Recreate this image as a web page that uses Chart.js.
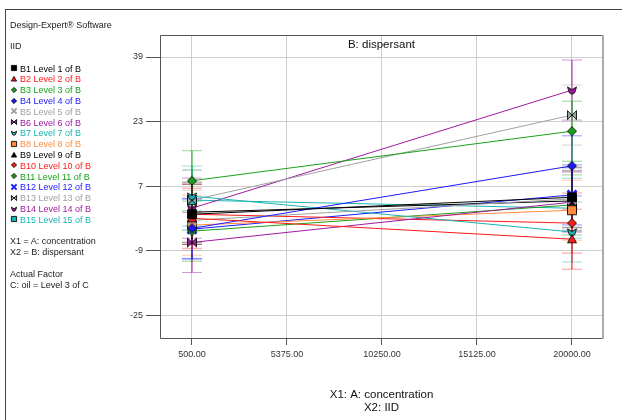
<!DOCTYPE html>
<html>
<head>
<meta charset="utf-8">
<script src="https://cdn.jsdelivr.net/npm/chart.js@4.4.1/dist/chart.umd.min.js"></script>
<style>
  body { margin: 0; background: #fff; font-family: "Liberation Sans", Arial, sans-serif; }
  #wrap { position: relative; width: 622px; height: 420px; overflow: hidden; }
  #frame { position: absolute; left: 5px; top: 9px; width: 640px; height: 430px; border-left: 1px solid #444; border-top: 1px solid #444; }
  #chart { position: absolute; left: 0; top: 0; }
  .t { position: absolute; left: 10px; font-size: 9px; line-height: 11px; color: #222; white-space: nowrap; }
  .t canvas { vertical-align: middle; margin-right: 2px; position: relative; top: -1px; }
</style>
</head>
<body>
<div id="wrap">
  <div id="frame"></div>
  <canvas id="chart" width="622" height="420"></canvas>
  <div id="side"></div>
</div>
<script>
// levels of B and the predicted IID at A = 500 and A = 20000
const levels = ['B1 Level 1 of B', 'B2 Level 2 of B', 'B3 Level 3 of B', 'B4 Level 4 of B', 'B5 Level 5 of B',
  'B6 Level 6 of B', 'B7 Level 7 of B', 'B8 Level 8 of B', 'B9 Level 9 of B', 'B10 Level 10 of B',
  'B11 Level 11 of B', 'B12 Level 12 of B', 'B13 Level 13 of B', 'B14 Level 14 of B', 'B15 Level 15 of B'];
const concentration = [500, 20000];
const iidAt500   = [0.0, -1.0, 8.3, -3.5, -1.5, -7.0, 4.5, -2.7, 0.5, 0.0, -4.2, -3.7, 3.5, 1.5, 3.5];
const iidAt20000 = [4.2, -6.2, 20.6, 12.0, 3.8, 3.0, -4.4, 1.0, 3.3, -2.2, 2.3, 4.8, 24.6, 30.8, 1.5];
const lsdHalf = 7.45;
const xTicks = [500, 5375, 10250, 15125, 20000];
const yTicks = [-25, -9, 7, 23, 39];

const colors = ['#000000', '#ff1a1a', '#1aa01a', '#1a1aff', '#a0a0a0', '#a01aa0', '#1ab4b4', '#ff8c3c',
  '#000000', '#ff1a1a', '#1aa01a', '#1a1aff', '#a0a0a0', '#a01aa0', '#1ab4b4'];
const shapes = ['rect', 'tri', 'diamond', 'diamond', 'x', 'bowtie', 'chevron', 'rect',
  'tri', 'diamond', 'diamond', 'x', 'bowtie', 'chevron', 'rect'];

function alpha(hex, a) {
  const n = parseInt(hex.slice(1), 16);
  return `rgba(${n >> 16},${(n >> 8) & 255},${n & 255},${a})`;
}

function drawShape(c, kind, cx, cy, r, col) {
  c.fillStyle = col;
  c.strokeStyle = 'rgba(0,0,0,0.85)';
  c.lineWidth = 1;
  c.beginPath();
  if (kind === 'rect') {
    c.rect(cx - r, cy - r, 2 * r, 2 * r);
  } else if (kind === 'tri') {
    c.moveTo(cx, cy - r); c.lineTo(cx + r, cy + r * 0.8); c.lineTo(cx - r, cy + r * 0.8); c.closePath();
  } else if (kind === 'diamond') {
    c.moveTo(cx, cy - r); c.lineTo(cx + r, cy); c.lineTo(cx, cy + r); c.lineTo(cx - r, cy); c.closePath();
  } else if (kind === 'bowtie') {
    c.moveTo(cx - r, cy - r); c.lineTo(cx, cy); c.lineTo(cx - r, cy + r); c.closePath();
    c.moveTo(cx + r, cy - r); c.lineTo(cx, cy); c.lineTo(cx + r, cy + r); c.closePath();
  } else if (kind === 'chevron') {
    c.moveTo(cx - r, cy - r * 0.7); c.lineTo(cx, cy - r * 0.1); c.lineTo(cx + r, cy - r * 0.7);
    c.lineTo(cx + r * 0.6, cy + r * 0.6); c.lineTo(cx, cy + r * 0.9); c.lineTo(cx - r * 0.6, cy + r * 0.6); c.closePath();
  } else if (kind === 'x') {
    c.strokeStyle = col; c.lineWidth = Math.max(2, r * 0.6);
    c.moveTo(cx - r, cy - r); c.lineTo(cx + r, cy + r);
    c.moveTo(cx + r, cy - r); c.lineTo(cx - r, cy + r);
    c.stroke();
    return;
  }
  c.fill();
  c.stroke();
}

function marker(kind, col, size, r) {
  const cv = document.createElement('canvas');
  cv.width = size; cv.height = size;
  drawShape(cv.getContext('2d'), kind, size / 2, size / 2, r, col);
  return cv;
}

// side panel text
const side = document.getElementById('side');
function addText(txt, cy, col, sym) {
  const d = document.createElement('div');
  d.className = 't';
  d.style.top = (cy - 5.5) + 'px';
  d.style.color = col || '#222';
  if (sym) d.appendChild(sym);
  d.appendChild(document.createTextNode(txt));
  side.appendChild(d);
}
addText('Design-Expert\u00ae Software', 25);
addText('IID', 46);
levels.forEach((lab, i) => addText(lab, 69 + i * 10.8, colors[i], marker(shapes[i], colors[i], 8, 2.6)));
addText('X1 = A: concentration', 241);
addText('X2 = B: dispersant', 252);
addText('Actual Factor', 274);
addText('C: oil = Level 3 of C', 285);

const datasets = [];
levels.forEach((lab, i) => {
  datasets.push({
    label: lab,
    data: concentration.map((x, k) => ({ x, y: k ? iidAt20000[i] : iidAt500[i] })),
    borderColor: colors[i],
    borderWidth: 1,
    pointStyle: marker(shapes[i], colors[i], 12, 4.5),
    order: 0
  });
  concentration.forEach((x, k) => {
    const v = k ? iidAt20000[i] : iidAt500[i];
    datasets.push({
      label: lab + ' LSD',
      data: [{ x, y: v - lsdHalf }, { x, y: v + lsdHalf }],
      borderColor: colors[i],
      borderWidth: 1,
      pointStyle: 'line',
      pointRadius: 10,
      pointBorderColor: alpha(colors[i], 0.45),
      pointBorderWidth: 1,
      order: 1
    });
  });
});

const frameBox = {
  id: 'frameBox',
  beforeDatasetsDraw(chart) {
    const { ctx, chartArea: a } = chart;
    ctx.save();
    ctx.strokeStyle = '#555';
    ctx.lineWidth = 1;
    ctx.beginPath();
    ctx.moveTo(a.right, a.top + 0.5); ctx.lineTo(a.left + 0.5, a.top + 0.5);
    ctx.lineTo(a.left + 0.5, a.bottom + 0.5); ctx.lineTo(a.right, a.bottom + 0.5);
    ctx.stroke();
    ctx.strokeStyle = '#aaa';
    ctx.lineWidth = 2;
    ctx.beginPath();
    ctx.moveTo(a.right, a.top); ctx.lineTo(a.right, a.bottom + 1);
    ctx.stroke();
    ctx.fillStyle = '#111';
    ctx.font = '11.5px "Liberation Sans", Arial, sans-serif';
    ctx.textAlign = 'center';
    ctx.textBaseline = 'middle';
    ctx.fillText('B: dispersant', (a.left + a.right) / 2, a.top + 10);
    ctx.restore();
  }
};

Chart.defaults.font.family = '"Liberation Sans", Arial, sans-serif';

new Chart(document.getElementById('chart'), {
  type: 'line',
  data: { datasets },
  options: {
    responsive: false,
    animation: false,
    layout: { padding: { left: 0, top: 35, right: 19, bottom: 6 } },
    plugins: { legend: { display: false }, tooltip: { enabled: false } },
    scales: {
      x: {
        type: 'linear',
        min: -1142,
        max: 21591,
        afterBuildTicks: a => { a.ticks = xTicks.map(v => ({ value: v })); },
        afterFit: s => { s.height = 76; },
        ticks: { callback: v => v.toFixed(2), font: { size: 9 }, color: '#333', padding: 4, maxRotation: 0, autoSkip: false },
        grid: { color: '#cdcdcd', tickColor: '#555', tickLength: 7 },
        border: { display: false },
        title: {
          display: true,
          text: ['X1: A: concentration', 'X2: IID'],
          font: { size: 11.5, lineHeight: 1.1 },
          color: '#111',
          padding: { top: 0, bottom: 0 }
        }
      },
      y: {
        min: -30.7,
        max: 44.46,
        afterBuildTicks: a => { a.ticks = yTicks.map(v => ({ value: v })); },
        afterFit: s => { s.width = 160; },
        ticks: { font: { size: 9 }, color: '#333', padding: 3 },
        grid: { color: '#cdcdcd', tickColor: '#555', tickLength: 14 },
        border: { display: false }
      }
    }
  },
  plugins: [frameBox]
});
</script>
</body>
</html>
